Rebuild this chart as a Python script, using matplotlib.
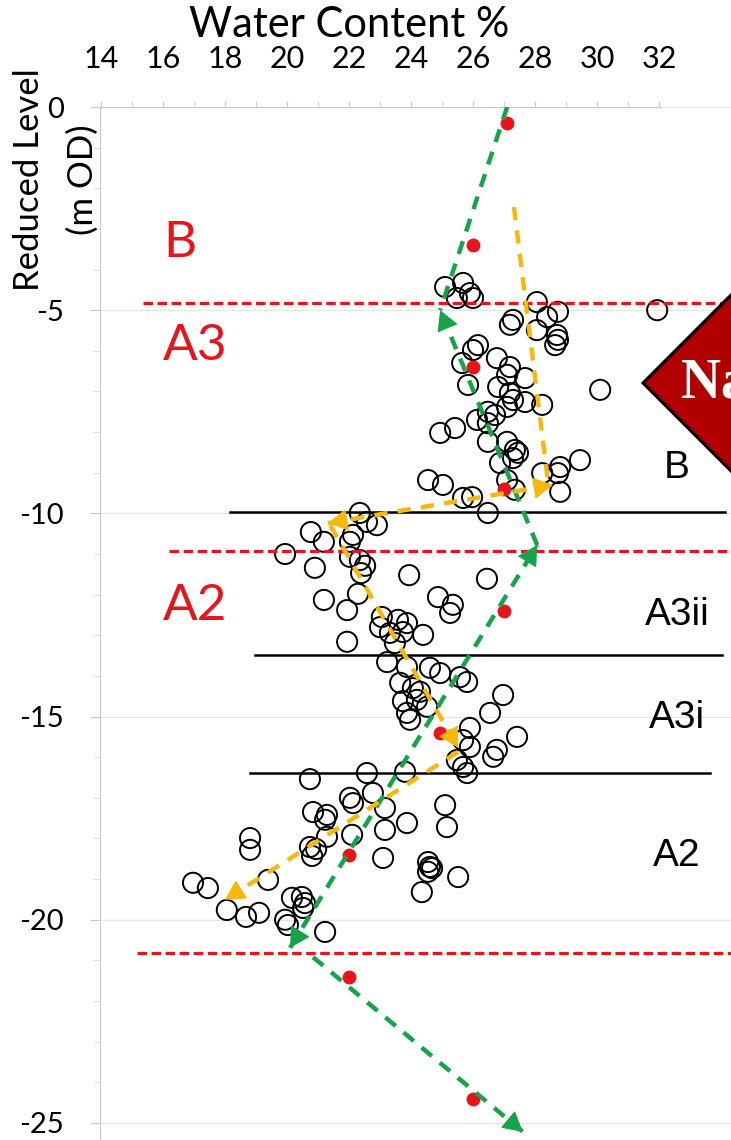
import numpy as np
import matplotlib.pyplot as plt
from matplotlib.patches import Polygon

plt.rcParams['axes.unicode_minus'] = False
plt.rcParams['font.family'] = ['Lato', 'DejaVu Sans']

# Water content (%) and reduced level (m OD) of the open circles
wc_upper = [25.10, 25.68, 25.90, 26.00, 25.48, 28.06, 28.74, 28.39, 27.29, 27.19,
            28.06, 28.71, 28.74, 28.65, 26.16, 26.00, 26.77, 25.65, 27.19, 27.10,
            27.68, 26.81, 25.84, 27.19, 27.29, 27.68, 28.23, 27.10, 26.48, 26.71,
            26.13, 26.48, 25.42, 24.94, 26.48, 27.10, 27.35, 27.45, 27.29, 26.87,
            29.45, 28.81, 28.23, 28.74, 24.55, 25.03, 27.10, 27.35, 28.81, 25.68,
            25.97, 26.48, 30.10, 31.94]
lvl_upper = [-4.43, -4.33, -4.58, -4.70, -4.70, -4.80, -5.04, -5.17, -5.24, -5.36,
             -5.49, -5.61, -5.73, -5.86, -5.86, -5.98, -6.18, -6.30, -6.40, -6.59,
             -6.67, -6.89, -6.84, -7.04, -7.21, -7.26, -7.33, -7.38, -7.50, -7.58,
             -7.70, -7.78, -7.90, -8.02, -8.24, -8.24, -8.44, -8.51, -8.64, -8.76,
             -8.69, -8.86, -9.01, -9.01, -9.18, -9.30, -9.18, -9.42, -9.47, -9.62,
             -9.60, -9.99, -6.96, -5.00]

wc_mid = [22.35, 22.90, 22.58, 20.77, 21.19, 22.13, 22.03, 19.94, 22.03, 22.35,
          22.52, 22.39, 20.90, 23.94, 26.45, 21.19, 22.29, 21.94, 24.87, 25.35,
          25.26, 23.06, 23.00, 23.58, 23.87, 23.32, 23.74, 24.39, 23.48, 21.94,
          23.23, 23.87, 24.61, 24.94, 25.58, 25.81, 23.65, 24.06, 24.29, 23.74,
          24.19, 24.52, 23.87, 23.97, 26.97, 26.55, 27.42, 25.90, 25.68, 25.90,
          26.77, 26.65, 25.48, 25.68, 25.81]
lvl_mid = [-9.99, -10.29, -10.21, -10.46, -10.70, -10.53, -10.70, -11.00, -11.07, -11.15,
           -11.29, -11.47, -11.34, -11.52, -11.61, -12.13, -11.98, -12.38, -12.06, -12.25,
           -12.45, -12.55, -12.80, -12.62, -12.70, -12.94, -12.92, -12.99, -13.19, -13.16,
           -13.66, -13.78, -13.80, -13.93, -14.03, -14.15, -14.17, -14.30, -14.39, -14.62,
           -14.59, -14.76, -14.91, -15.08, -14.47, -14.91, -15.50, -15.28, -15.58, -15.75,
           -15.82, -15.99, -16.07, -16.24, -16.39]

wc_low = [22.58, 20.74, 23.81, 22.77, 22.03, 22.13, 23.16, 20.84, 21.29, 21.23,
          23.87, 23.16, 22.10, 21.29, 18.81, 18.81, 20.74, 20.94, 20.81, 23.10,
          19.39, 16.97, 17.45, 20.16, 20.48, 20.58, 20.52, 18.06, 18.68, 19.10,
          19.94, 20.03, 21.23, 25.10, 25.16, 24.55, 24.61, 24.55, 24.68, 24.35,
          25.52]
lvl_low = [-16.39, -16.54, -16.36, -16.88, -17.00, -17.13, -17.25, -17.35, -17.42, -17.54,
           -17.62, -17.79, -17.91, -17.96, -17.99, -18.28, -18.21, -18.26, -18.43, -18.48,
           -19.02, -19.09, -19.22, -19.46, -19.44, -19.59, -19.71, -19.76, -19.93, -19.83,
           -20.00, -20.13, -20.30, -17.18, -17.72, -18.58, -18.70, -18.82, -18.73, -19.32,
           -18.95]

# red points
red_wc = [27.1, 26.0, 26.0, 27.0, 27.0, 24.95, 22.0, 22.0, 26.0]
red_lvl = [-0.4, -3.4, -6.4, -9.4, -12.4, -15.4, -18.4, -21.4, -24.4]

# boundaries: (level, x start, x end)
red_bounds = [(-4.83, 15.35), (-10.93, 16.2), (-20.82, 15.15)]
black_bounds = [(-9.97, 18.15, 34.13), (-13.48, 18.97, 34.03), (-16.39, 18.8, 33.65)]

# trend arrows: x0, y0, x1, y1, head at start, head at end
green_arrows = [(27.10, 0.0, 24.94, -5.0, False, False),
                (28.07, -10.78, 24.94, -5.0, False, True),
                (20.10, -20.69, 28.07, -10.78, True, True),
                (20.84, -20.92, 27.61, -25.22, False, True)]
yellow_arrows = [(27.32, -2.46, 28.42, -9.23, False, False),
                 (21.32, -10.24, 28.58, -9.30, True, True),
                 (21.40, -10.30, 25.52, -15.77, False, True),
                 (25.52, -15.87, 18.00, -19.51, False, True)]

red_labels = [('B', -3.69), ('A3', -6.23), ('A2', -12.62)]
black_labels = [('B', -9.13), ('A3ii', -12.75), ('A3i', -15.28), ('A2', -18.68)]

GREEN = '#17a34a'
YELLOW = '#f6b80d'
RED = '#e8141b'

fig = plt.figure(figsize=(7.31, 11.40), dpi=100)
ax = fig.add_axes([100 / 731, 0, 631 / 731, 1 - 107 / 1140])
ax.set_xlim(13.97, 34.32)
ax.set_ylim(-25.42, 0)

# axes in the Excel look
ax.xaxis.tick_top()
ax.set_xticks(np.arange(14, 33, 2))
ax.set_xticks(np.arange(14, 33, 1), minor=True)
ax.set_yticks(np.arange(0, -26, -5))
ax.set_yticks(np.arange(0, -26, -1), minor=True)
for s in ['right', 'bottom']:
    ax.spines[s].set_visible(False)
ax.spines['top'].set_bounds(13.97, 32.05)
ax.spines['top'].set_color('#c8c8c8')
ax.spines['left'].set_color('#c8c8c8')
ax.tick_params(axis='x', which='both', colors='#c8c8c8', labelcolor='black',
               labelsize=22, pad=20, length=4.3)
ax.tick_params(axis='y', which='major', colors='#c8c8c8', labelcolor='black',
               labelsize=21, pad=19, length=7.2)
ax.tick_params(axis='y', which='minor', colors='#dddddd', length=5)
ax.grid(axis='y', which='major', color='#e6e6e6', lw=1)
ax.set_axisbelow(True)

fig.text(349 / 731, 1 - 37 / 1140, 'Water Content %', fontsize=30,
         ha='center', va='baseline')
fig.text(29 / 731, 1 - 180 / 1140, 'Reduced Level', fontsize=25, rotation=90,
         ha='center', va='center')
fig.text(83 / 731, 1 - 180 / 1140, '(m OD)', fontsize=25, rotation=90,
         ha='center', va='center')

# data circles
ax.scatter(wc_upper + wc_mid + wc_low, lvl_upper + lvl_mid + lvl_low, s=210,
           facecolors='none', edgecolors='black', linewidths=1.4, zorder=2)

# layer boundaries
for y, x0 in red_bounds:
    ax.plot([x0, 34.32], [y, y], color=RED, lw=2.3, ls=(0, (3, 1.4)), zorder=3)
for y, x0, x1 in black_bounds:
    ax.plot([x0, x1], [y, y], color='black', lw=1.8, zorder=3)

ax.scatter(red_wc, red_lvl, s=100, color=RED, zorder=4, linewidths=0)


def draw_arrows(arrows, color):
    for x0, y0, x1, y1, h0, h1 in arrows:
        ax.plot([x0, x1], [y0, y1], color=color, lw=3.2, ls=(0, (3.0, 2.3)),
                zorder=5, solid_capstyle='butt')
        ends = []
        if h0:
            ends.append(((x0, y0), (x1, y1)))
        if h1:
            ends.append(((x1, y1), (x0, y0)))
        for tip, other in ends:
            back = (tip[0] + 0.02 * (other[0] - tip[0]), tip[1] + 0.02 * (other[1] - tip[1]))
            ax.annotate('', xy=tip, xytext=back, zorder=6,
                        arrowprops=dict(arrowstyle='-|>,head_length=0.9,head_width=0.5',
                                        color=color, lw=1, shrinkA=0, shrinkB=0,
                                        mutation_scale=14))


draw_arrows(green_arrows, GREEN)
draw_arrows(yellow_arrows, YELLOW)

for txt, y in red_labels:
    ax.text(16.0, y, txt, color=RED, fontsize=37, va='baseline', ha='left')
for txt, y in black_labels:
    ax.text(32.58, y, txt, color='black', fontsize=28, va='baseline', ha='center',
            family='Liberation Sans')

# Na badge (diamond cut by the right edge)
cx, cy = 643 / 731, 1 - 383 / 1140
hx, hy = 95 / 731, 95 / 1140
diamond = Polygon([(cx, cy), (cx + hx, cy + hy), (cx + 2 * hx, cy), (cx + hx, cy - hy)],
                  closed=True, transform=fig.transFigure, facecolor='#b00000',
                  edgecolor='black', lw=2.2, zorder=10)
fig.patches.append(diamond)
fig.text(681 / 731, 1 - 398 / 1140, 'Na', color='white', fontsize=40, fontweight='bold',
         family='Liberation Serif', ha='left', va='baseline', zorder=11)

fig.savefig('out.png', dpi=100)
